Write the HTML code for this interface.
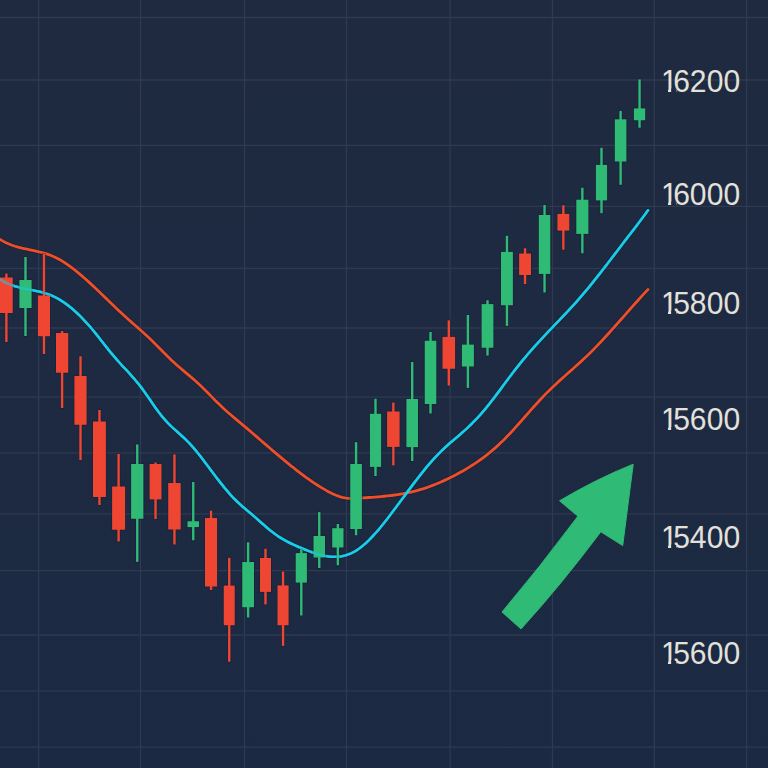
<!DOCTYPE html>
<html><head><meta charset="utf-8"><title>Chart</title>
<style>html,body{margin:0;padding:0;background:#1f2a40;}svg{display:block;}</style>
</head><body>
<svg width="768" height="768" viewBox="0 0 768 768">
<defs><clipPath id="lc0"><rect x="655" y="61.85" width="19.5" height="26.7"/><rect x="668.01" y="88.45" width="3.17" height="6.4"/><rect x="674.5" y="61.85" width="90" height="27.4"/><rect x="676.2" y="89.15" width="90" height="7"/></clipPath><clipPath id="lc1"><rect x="655" y="174.9" width="19.5" height="26.7"/><rect x="668.01" y="201.5" width="3.17" height="6.4"/><rect x="674.5" y="174.9" width="90" height="27.4"/><rect x="676.2" y="202.2" width="90" height="7"/></clipPath><clipPath id="lc2"><rect x="655" y="283.8" width="19.5" height="26.7"/><rect x="668.01" y="310.4" width="3.17" height="6.4"/><rect x="674.5" y="283.8" width="90" height="27.4"/><rect x="676.2" y="311.1" width="90" height="7"/></clipPath><clipPath id="lc3"><rect x="655" y="400.35" width="19.5" height="26.7"/><rect x="668.01" y="426.95" width="3.17" height="6.4"/><rect x="674.5" y="400.35" width="90" height="27.4"/><rect x="676.2" y="427.65" width="90" height="7"/></clipPath><clipPath id="lc4"><rect x="655" y="517.7" width="19.5" height="26.7"/><rect x="668.01" y="544.3" width="3.17" height="6.4"/><rect x="674.5" y="517.7" width="90" height="27.4"/><rect x="676.2" y="545" width="90" height="7"/></clipPath><clipPath id="lc5"><rect x="655" y="633.55" width="19.5" height="26.7"/><rect x="668.01" y="660.15" width="3.17" height="6.4"/><rect x="674.5" y="633.55" width="90" height="27.4"/><rect x="676.2" y="660.85" width="90" height="7"/></clipPath></defs>
<linearGradient id="bg" x1="0" y1="0" x2="0" y2="1"><stop offset="0" stop-color="#1f2a40"/><stop offset="0.5" stop-color="#1d2a41"/><stop offset="1" stop-color="#1b2943"/></linearGradient>
<rect width="768" height="768" fill="url(#bg)"/>
<g stroke="#2f3a50" stroke-width="1.3"><line x1="38.6" y1="0" x2="38.6" y2="768"/><line x1="140.5" y1="0" x2="140.5" y2="768"/><line x1="244.5" y1="0" x2="244.5" y2="768"/><line x1="346.5" y1="0" x2="346.5" y2="768"/><line x1="450.1" y1="0" x2="450.1" y2="768"/><line x1="552.5" y1="0" x2="552.5" y2="768"/><line x1="654.3" y1="0" x2="654.3" y2="768"/><line x1="746.6" y1="0" x2="746.6" y2="768"/><line x1="0" y1="17.5" x2="768" y2="17.5"/><line x1="0" y1="80" x2="768" y2="80"/><line x1="0" y1="145.3" x2="768" y2="145.3"/><line x1="0" y1="206.4" x2="768" y2="206.4"/><line x1="0" y1="268.3" x2="768" y2="268.3"/><line x1="0" y1="328" x2="768" y2="328"/><line x1="0" y1="397.2" x2="768" y2="397.2"/><line x1="0" y1="452.9" x2="768" y2="452.9"/><line x1="0" y1="513.9" x2="768" y2="513.9"/><line x1="0" y1="570.6" x2="768" y2="570.6"/><line x1="0" y1="635" x2="768" y2="635"/><line x1="0" y1="690.9" x2="768" y2="690.9"/><line x1="0" y1="747.2" x2="768" y2="747.2"/></g>
<g fill="none" stroke="#141b2b" stroke-width="4.4" stroke-linecap="round" stroke-linejoin="round" opacity="0.45"><path d="M0,239.33 L3,241.13 L6,242.69 L9,244.05 L12,245.22 L15,246.24 L18,247.12 L21,247.9 L24,248.6 L27,249.24 L30,249.86 L33,250.46 L36,251.09 L39,251.77 L42,252.51 L45,253.36 L48,254.32 L51,255.43 L54,256.72 L57,258.18 L60,259.81 L63,261.61 L66,263.55 L69,265.62 L72,267.83 L75,270.15 L78,272.57 L81,275.09 L84,277.69 L87,280.37 L90,283.11 L93,285.9 L96,288.73 L99,291.59 L102,294.48 L105,297.38 L108,300.29 L111,303.19 L114,306.08 L117,308.94 L120,311.77 L123,314.56 L126,317.3 L129,319.99 L132,322.63 L135,325.26 L138,327.88 L141,330.52 L144,333.2 L147,335.94 L150,338.75 L153,341.66 L156,344.65 L159,347.69 L162,350.75 L165,353.8 L168,356.8 L171,359.72 L174,362.52 L177,365.21 L180,367.79 L183,370.32 L186,372.81 L189,375.32 L192,377.87 L195,380.5 L198,383.24 L201,386.1 L204,389.04 L207,392.05 L210,395.09 L213,398.12 L216,401.14 L219,404.09 L222,406.97 L225,409.74 L228,412.42 L231,415.03 L234,417.59 L237,420.11 L240,422.62 L243,425.13 L246,427.65 L249,430.19 L252,432.75 L255,435.33 L258,437.91 L261,440.5 L264,443.09 L267,445.68 L270,448.26 L273,450.83 L276,453.38 L279,455.92 L282,458.44 L285,460.93 L288,463.39 L291,465.82 L294,468.21 L297,470.56 L300,472.86 L303,475.11 L306,477.31 L309,479.45 L312,481.54 L315,483.55 L318,485.5 L321,487.37 L324,489.17 L327,490.89 L330,492.49 L333,493.96 L336,495.27 L339,496.39 L342,497.29 L345,497.95 L348,498.34 L351,498.51 L354,498.52 L357,498.39 L360,498.19 L363,497.97 L366,497.74 L369,497.52 L372,497.29 L375,497.05 L378,496.81 L381,496.54 L384,496.26 L387,495.95 L390,495.61 L393,495.24 L396,494.83 L399,494.38 L402,493.88 L405,493.34 L408,492.74 L411,492.08 L414,491.36 L417,490.57 L420,489.72 L423,488.8 L426,487.82 L429,486.78 L432,485.67 L435,484.5 L438,483.28 L441,481.99 L444,480.64 L447,479.24 L450,477.79 L453,476.27 L456,474.71 L459,473.09 L462,471.42 L465,469.69 L468,467.89 L471,466.03 L474,464.09 L477,462.08 L480,459.98 L483,457.8 L486,455.52 L489,453.15 L492,450.67 L495,448.08 L498,445.39 L501,442.57 L504,439.63 L507,436.58 L510,433.43 L513,430.19 L516,426.88 L519,423.53 L522,420.13 L525,416.72 L528,413.31 L531,409.9 L534,406.53 L537,403.2 L540,399.93 L543,396.74 L546,393.64 L549,390.65 L552,387.73 L555,384.9 L558,382.12 L561,379.4 L564,376.71 L567,374.04 L570,371.38 L573,368.72 L576,366.05 L579,363.34 L582,360.6 L585,357.8 L588,354.93 L591,351.99 L594,348.97 L597,345.87 L600,342.72 L603,339.51 L606,336.26 L609,332.96 L612,329.62 L615,326.26 L618,322.88 L621,319.49 L624,316.08 L627,312.68 L630,309.29 L633,305.91 L636,302.55 L639,299.22 L642,295.93 L645,292.67 L648,289.47"/><path d="M0,279.4 L3,281.2 L6,282.76 L9,284.11 L12,285.26 L15,286.25 L18,287.11 L21,287.86 L24,288.53 L27,289.14 L30,289.73 L33,290.32 L36,290.93 L39,291.59 L42,292.33 L45,293.18 L48,294.16 L51,295.3 L54,296.63 L57,298.15 L60,299.87 L63,301.78 L66,303.87 L69,306.14 L72,308.58 L75,311.2 L78,313.98 L81,316.93 L84,320.03 L87,323.29 L90,326.7 L93,330.25 L96,333.93 L99,337.7 L102,341.52 L105,345.35 L108,349.14 L111,352.86 L114,356.45 L117,359.9 L120,363.25 L123,366.51 L126,369.74 L129,372.99 L132,376.29 L135,379.72 L138,383.31 L141,387.13 L144,391.21 L147,395.46 L150,399.82 L153,404.18 L156,408.46 L159,412.57 L162,416.42 L165,419.92 L168,423.12 L171,426.09 L174,428.88 L177,431.58 L180,434.26 L183,436.97 L186,439.81 L189,442.82 L192,446.08 L195,449.57 L198,453.23 L201,457.05 L204,460.97 L207,464.95 L210,468.97 L213,472.97 L216,476.94 L219,480.85 L222,484.67 L225,488.37 L228,491.93 L231,495.32 L234,498.52 L237,501.5 L240,504.28 L243,506.92 L246,509.47 L249,511.99 L252,514.52 L255,517.12 L258,519.76 L261,522.42 L264,525.06 L267,527.65 L270,530.16 L273,532.54 L276,534.76 L279,536.81 L282,538.67 L285,540.39 L288,541.98 L291,543.46 L294,544.86 L297,546.19 L300,547.48 L303,548.75 L306,549.98 L309,551.15 L312,552.27 L315,553.29 L318,554.22 L321,555.04 L324,555.72 L327,556.25 L330,556.63 L333,556.82 L336,556.82 L339,556.61 L342,556.18 L345,555.5 L348,554.56 L351,553.35 L354,551.85 L357,550.05 L360,547.95 L363,545.57 L366,542.94 L369,540.07 L372,537 L375,533.73 L378,530.29 L381,526.71 L384,523 L387,519.18 L390,515.28 L393,511.31 L396,507.3 L399,503.27 L402,499.22 L405,495.16 L408,491.12 L411,487.11 L414,483.13 L417,479.21 L420,475.36 L423,471.58 L426,467.9 L429,464.32 L432,460.86 L435,457.54 L438,454.36 L441,451.34 L444,448.48 L447,445.74 L450,443.1 L453,440.51 L456,437.96 L459,435.39 L462,432.79 L465,430.12 L468,427.35 L471,424.46 L474,421.45 L477,418.32 L480,415.06 L483,411.65 L486,408.09 L489,404.39 L492,400.56 L495,396.64 L498,392.65 L501,388.62 L504,384.56 L507,380.51 L510,376.49 L513,372.53 L516,368.65 L519,364.86 L522,361.16 L525,357.55 L528,354.01 L531,350.55 L534,347.16 L537,343.83 L540,340.55 L543,337.32 L546,334.13 L549,330.97 L552,327.82 L555,324.69 L558,321.56 L561,318.41 L564,315.26 L567,312.07 L570,308.85 L573,305.58 L576,302.26 L579,298.88 L582,295.43 L585,291.9 L588,288.3 L591,284.64 L594,280.92 L597,277.16 L600,273.35 L603,269.5 L606,265.62 L609,261.72 L612,257.8 L615,253.86 L618,249.93 L621,245.99 L624,242.07 L627,238.15 L630,234.26 L633,230.36 L636,226.45 L639,222.51 L642,218.52 L645,214.45 L648,210.3"/></g>
<path d="M0,239.33 L3,241.13 L6,242.69 L9,244.05 L12,245.22 L15,246.24 L18,247.12 L21,247.9 L24,248.6 L27,249.24 L30,249.86 L33,250.46 L36,251.09 L39,251.77 L42,252.51 L45,253.36 L48,254.32 L51,255.43 L54,256.72 L57,258.18 L60,259.81 L63,261.61 L66,263.55 L69,265.62 L72,267.83 L75,270.15 L78,272.57 L81,275.09 L84,277.69 L87,280.37 L90,283.11 L93,285.9 L96,288.73 L99,291.59 L102,294.48 L105,297.38 L108,300.29 L111,303.19 L114,306.08 L117,308.94 L120,311.77 L123,314.56 L126,317.3 L129,319.99 L132,322.63 L135,325.26 L138,327.88 L141,330.52 L144,333.2 L147,335.94 L150,338.75 L153,341.66 L156,344.65 L159,347.69 L162,350.75 L165,353.8 L168,356.8 L171,359.72 L174,362.52 L177,365.21 L180,367.79 L183,370.32 L186,372.81 L189,375.32 L192,377.87 L195,380.5 L198,383.24 L201,386.1 L204,389.04 L207,392.05 L210,395.09 L213,398.12 L216,401.14 L219,404.09 L222,406.97 L225,409.74 L228,412.42 L231,415.03 L234,417.59 L237,420.11 L240,422.62 L243,425.13 L246,427.65 L249,430.19 L252,432.75 L255,435.33 L258,437.91 L261,440.5 L264,443.09 L267,445.68 L270,448.26 L273,450.83 L276,453.38 L279,455.92 L282,458.44 L285,460.93 L288,463.39 L291,465.82 L294,468.21 L297,470.56 L300,472.86 L303,475.11 L306,477.31 L309,479.45 L312,481.54 L315,483.55 L318,485.5 L321,487.37 L324,489.17 L327,490.89 L330,492.49 L333,493.96 L336,495.27 L339,496.39 L342,497.29 L345,497.95 L348,498.34 L351,498.51 L354,498.52 L357,498.39 L360,498.19 L363,497.97 L366,497.74 L369,497.52 L372,497.29 L375,497.05 L378,496.81 L381,496.54 L384,496.26 L387,495.95 L390,495.61 L393,495.24 L396,494.83 L399,494.38 L402,493.88 L405,493.34 L408,492.74 L411,492.08 L414,491.36 L417,490.57 L420,489.72 L423,488.8 L426,487.82 L429,486.78 L432,485.67 L435,484.5 L438,483.28 L441,481.99 L444,480.64 L447,479.24 L450,477.79 L453,476.27 L456,474.71 L459,473.09 L462,471.42 L465,469.69 L468,467.89 L471,466.03 L474,464.09 L477,462.08 L480,459.98 L483,457.8 L486,455.52 L489,453.15 L492,450.67 L495,448.08 L498,445.39 L501,442.57 L504,439.63 L507,436.58 L510,433.43 L513,430.19 L516,426.88 L519,423.53 L522,420.13 L525,416.72 L528,413.31 L531,409.9 L534,406.53 L537,403.2 L540,399.93 L543,396.74 L546,393.64 L549,390.65 L552,387.73 L555,384.9 L558,382.12 L561,379.4 L564,376.71 L567,374.04 L570,371.38 L573,368.72 L576,366.05 L579,363.34 L582,360.6 L585,357.8 L588,354.93 L591,351.99 L594,348.97 L597,345.87 L600,342.72 L603,339.51 L606,336.26 L609,332.96 L612,329.62 L615,326.26 L618,322.88 L621,319.49 L624,316.08 L627,312.68 L630,309.29 L633,305.91 L636,302.55 L639,299.22 L642,295.93 L645,292.67 L648,289.47" fill="none" stroke="#ef4e2a" stroke-width="2.8" stroke-linejoin="round" stroke-linecap="round"/>
<path d="M0,279.4 L3,281.2 L6,282.76 L9,284.11 L12,285.26 L15,286.25 L18,287.11 L21,287.86 L24,288.53 L27,289.14 L30,289.73 L33,290.32 L36,290.93 L39,291.59 L42,292.33 L45,293.18 L48,294.16 L51,295.3 L54,296.63 L57,298.15 L60,299.87 L63,301.78 L66,303.87 L69,306.14 L72,308.58 L75,311.2 L78,313.98 L81,316.93 L84,320.03 L87,323.29 L90,326.7 L93,330.25 L96,333.93 L99,337.7 L102,341.52 L105,345.35 L108,349.14 L111,352.86 L114,356.45 L117,359.9 L120,363.25 L123,366.51 L126,369.74 L129,372.99 L132,376.29 L135,379.72 L138,383.31 L141,387.13 L144,391.21 L147,395.46 L150,399.82 L153,404.18 L156,408.46 L159,412.57 L162,416.42 L165,419.92 L168,423.12 L171,426.09 L174,428.88 L177,431.58 L180,434.26 L183,436.97 L186,439.81 L189,442.82 L192,446.08 L195,449.57 L198,453.23 L201,457.05 L204,460.97 L207,464.95 L210,468.97 L213,472.97 L216,476.94 L219,480.85 L222,484.67 L225,488.37 L228,491.93 L231,495.32 L234,498.52 L237,501.5 L240,504.28 L243,506.92 L246,509.47 L249,511.99 L252,514.52 L255,517.12 L258,519.76 L261,522.42 L264,525.06 L267,527.65 L270,530.16 L273,532.54 L276,534.76 L279,536.81 L282,538.67 L285,540.39 L288,541.98 L291,543.46 L294,544.86 L297,546.19 L300,547.48 L303,548.75 L306,549.98 L309,551.15 L312,552.27 L315,553.29 L318,554.22 L321,555.04 L324,555.72 L327,556.25 L330,556.63 L333,556.82 L336,556.82 L339,556.61 L342,556.18 L345,555.5 L348,554.56 L351,553.35 L354,551.85 L357,550.05 L360,547.95 L363,545.57 L366,542.94 L369,540.07 L372,537 L375,533.73 L378,530.29 L381,526.71 L384,523 L387,519.18 L390,515.28 L393,511.31 L396,507.3 L399,503.27 L402,499.22 L405,495.16 L408,491.12 L411,487.11 L414,483.13 L417,479.21 L420,475.36 L423,471.58 L426,467.9 L429,464.32 L432,460.86 L435,457.54 L438,454.36 L441,451.34 L444,448.48 L447,445.74 L450,443.1 L453,440.51 L456,437.96 L459,435.39 L462,432.79 L465,430.12 L468,427.35 L471,424.46 L474,421.45 L477,418.32 L480,415.06 L483,411.65 L486,408.09 L489,404.39 L492,400.56 L495,396.64 L498,392.65 L501,388.62 L504,384.56 L507,380.51 L510,376.49 L513,372.53 L516,368.65 L519,364.86 L522,361.16 L525,357.55 L528,354.01 L531,350.55 L534,347.16 L537,343.83 L540,340.55 L543,337.32 L546,334.13 L549,330.97 L552,327.82 L555,324.69 L558,321.56 L561,318.41 L564,315.26 L567,312.07 L570,308.85 L573,305.58 L576,302.26 L579,298.88 L582,295.43 L585,291.9 L588,288.3 L591,284.64 L594,280.92 L597,277.16 L600,273.35 L603,269.5 L606,265.62 L609,261.72 L612,257.8 L615,253.86 L618,249.93 L621,245.99 L624,242.07 L627,238.15 L630,234.26 L633,230.36 L636,226.45 L639,222.51 L642,218.52 L645,214.45 L648,210.3" fill="none" stroke="#17cdea" stroke-width="2.6" stroke-linejoin="round" stroke-linecap="round"/>
<g fill="#161e30" stroke="#161e30" stroke-width="3.8" opacity="0.5"><rect x="-0.8" y="276.7" width="14.35" height="37.1" stroke="none"/><line x1="6.38" y1="272.7" x2="6.38" y2="342.8"/><rect x="18.6" y="279.2" width="13.8" height="29.6" stroke="none"/><line x1="25.5" y1="256.2" x2="25.5" y2="336.8"/><rect x="37.1" y="294.7" width="13.7" height="42.35" stroke="none"/><line x1="43.95" y1="253.2" x2="43.95" y2="354.8"/><rect x="55.2" y="332.2" width="13.85" height="41.35" stroke="none"/><line x1="62.12" y1="330.2" x2="62.12" y2="408.8"/><rect x="73.6" y="375.2" width="13.8" height="50.35" stroke="none"/><line x1="80.5" y1="355.45" x2="80.5" y2="460.8"/><rect x="92.2" y="420.7" width="14.5" height="77.1" stroke="none"/><line x1="99.45" y1="409.2" x2="99.45" y2="505.8"/><rect x="111.3" y="485.7" width="14.6" height="44.85" stroke="none"/><line x1="118.6" y1="453.2" x2="118.6" y2="542.3"/><rect x="130.3" y="463.2" width="13.9" height="56.35" stroke="none"/><line x1="137.25" y1="443.6" x2="137.25" y2="562.7"/><rect x="148.8" y="463.2" width="13.5" height="37" stroke="none"/><line x1="155.55" y1="461.7" x2="155.55" y2="519.8"/><rect x="167.4" y="482.2" width="14.1" height="48.1" stroke="none"/><line x1="174.45" y1="453.6" x2="174.45" y2="545.3"/><rect x="186.7" y="520.45" width="13.1" height="7.45" stroke="none"/><line x1="193.25" y1="481.2" x2="193.25" y2="541.05"/><rect x="204.2" y="517.2" width="13.7" height="70.1" stroke="none"/><line x1="211.05" y1="509.8" x2="211.05" y2="590.8"/><rect x="222.95" y="584.8" width="12.6" height="41.25" stroke="none"/><line x1="229.25" y1="557" x2="229.25" y2="662.55"/><rect x="241.45" y="561.2" width="13.35" height="46.85" stroke="none"/><line x1="248.12" y1="541.5" x2="248.12" y2="618.3"/><rect x="259.2" y="557.2" width="12.6" height="35.5" stroke="none"/><line x1="265.5" y1="547.95" x2="265.5" y2="605.3"/><rect x="276.7" y="584.6" width="12.7" height="41.45" stroke="none"/><line x1="283.05" y1="570.7" x2="283.05" y2="646.7"/><rect x="294.9" y="552.3" width="12.8" height="31.1" stroke="none"/><line x1="301.3" y1="548.6" x2="301.3" y2="616.3"/><rect x="312.7" y="535.2" width="13.1" height="23.1" stroke="none"/><line x1="319.25" y1="511.3" x2="319.25" y2="568.8"/><rect x="331.4" y="527.4" width="12.9" height="20.9" stroke="none"/><line x1="337.85" y1="523.2" x2="337.85" y2="566.05"/><rect x="349.45" y="463.2" width="13.25" height="66.6" stroke="none"/><line x1="356.07" y1="441.4" x2="356.07" y2="536.05"/><rect x="369.1" y="413" width="12.8" height="54.7" stroke="none"/><line x1="375.5" y1="397.95" x2="375.5" y2="476.8"/><rect x="386.3" y="410.7" width="14.1" height="37" stroke="none"/><line x1="393.35" y1="401.7" x2="393.35" y2="466.2"/><rect x="405.6" y="398.2" width="13.2" height="49.7" stroke="none"/><line x1="412.2" y1="361.2" x2="412.2" y2="461.8"/><rect x="423.95" y="339.95" width="13.15" height="64.85" stroke="none"/><line x1="430.52" y1="331.2" x2="430.52" y2="414.3"/><rect x="441.7" y="336.1" width="14.2" height="33.45" stroke="none"/><line x1="448.8" y1="319.6" x2="448.8" y2="386.4"/><rect x="461.1" y="343.8" width="13.6" height="23.5" stroke="none"/><line x1="467.9" y1="314.2" x2="467.9" y2="388.7"/><rect x="480.8" y="303.3" width="13.4" height="45.25" stroke="none"/><line x1="487.5" y1="299.45" x2="487.5" y2="356.4"/><rect x="500.2" y="251.1" width="13.5" height="54.95" stroke="none"/><line x1="506.95" y1="234.95" x2="506.95" y2="326.7"/><rect x="518.3" y="252.7" width="13.5" height="23.1" stroke="none"/><line x1="525.05" y1="247.45" x2="525.05" y2="284.9"/><rect x="538" y="214.2" width="13.1" height="60.5" stroke="none"/><line x1="544.55" y1="204.2" x2="544.55" y2="293.3"/><rect x="556.6" y="213.1" width="13.5" height="18.3" stroke="none"/><line x1="563.35" y1="204.5" x2="563.35" y2="250.55"/><rect x="575.5" y="198.9" width="13.7" height="35.8" stroke="none"/><line x1="582.35" y1="186.95" x2="582.35" y2="254.1"/><rect x="595.1" y="164.1" width="12.8" height="37.1" stroke="none"/><line x1="601.5" y1="147" x2="601.5" y2="214"/><rect x="614" y="118.5" width="13.2" height="43.8" stroke="none"/><line x1="620.6" y1="110.1" x2="620.6" y2="185.6"/><rect x="633.1" y="107.6" width="12.9" height="13.45" stroke="none"/><line x1="639.55" y1="78.6" x2="639.55" y2="128.55"/></g>
<g stroke-width="2.4"><line x1="6.38" y1="273.5" x2="6.38" y2="342" stroke="#ee4633"/><rect x="0" y="277.5" width="12.75" height="35.5" fill="#ee4633"/><line x1="25.5" y1="257" x2="25.5" y2="336" stroke="#2fba76"/><rect x="19.4" y="280" width="12.2" height="28" fill="#2fba76"/><line x1="43.95" y1="254" x2="43.95" y2="354" stroke="#ee4633"/><rect x="37.9" y="295.5" width="12.1" height="40.75" fill="#ee4633"/><line x1="62.12" y1="331" x2="62.12" y2="408" stroke="#ee4633"/><rect x="56" y="333" width="12.25" height="39.75" fill="#ee4633"/><line x1="80.5" y1="356.25" x2="80.5" y2="460" stroke="#ee4633"/><rect x="74.4" y="376" width="12.2" height="48.75" fill="#ee4633"/><line x1="99.45" y1="410" x2="99.45" y2="505" stroke="#ee4633"/><rect x="93" y="421.5" width="12.9" height="75.5" fill="#ee4633"/><line x1="118.6" y1="454" x2="118.6" y2="541.5" stroke="#ee4633"/><rect x="112.1" y="486.5" width="13" height="43.25" fill="#ee4633"/><line x1="137.25" y1="444.4" x2="137.25" y2="561.9" stroke="#2fba76"/><rect x="131.1" y="464" width="12.3" height="54.75" fill="#2fba76"/><line x1="155.55" y1="462.5" x2="155.55" y2="519" stroke="#ee4633"/><rect x="149.6" y="464" width="11.9" height="35.4" fill="#ee4633"/><line x1="174.45" y1="454.4" x2="174.45" y2="544.5" stroke="#ee4633"/><rect x="168.2" y="483" width="12.5" height="46.5" fill="#ee4633"/><line x1="193.25" y1="482" x2="193.25" y2="540.25" stroke="#2fba76"/><rect x="187.5" y="521.25" width="11.5" height="5.85" fill="#2fba76"/><line x1="211.05" y1="510.6" x2="211.05" y2="590" stroke="#ee4633"/><rect x="205" y="518" width="12.1" height="68.5" fill="#ee4633"/><line x1="229.25" y1="557.8" x2="229.25" y2="661.75" stroke="#ee4633"/><rect x="223.75" y="585.6" width="11" height="39.65" fill="#ee4633"/><line x1="248.12" y1="542.3" x2="248.12" y2="617.5" stroke="#2fba76"/><rect x="242.25" y="562" width="11.75" height="45.25" fill="#2fba76"/><line x1="265.5" y1="548.75" x2="265.5" y2="604.5" stroke="#ee4633"/><rect x="260" y="558" width="11" height="33.9" fill="#ee4633"/><line x1="283.05" y1="571.5" x2="283.05" y2="645.9" stroke="#ee4633"/><rect x="277.5" y="585.4" width="11.1" height="39.85" fill="#ee4633"/><line x1="301.3" y1="549.4" x2="301.3" y2="615.5" stroke="#2fba76"/><rect x="295.7" y="553.1" width="11.2" height="29.5" fill="#2fba76"/><line x1="319.25" y1="512.1" x2="319.25" y2="568" stroke="#2fba76"/><rect x="313.5" y="536" width="11.5" height="21.5" fill="#2fba76"/><line x1="337.85" y1="524" x2="337.85" y2="565.25" stroke="#2fba76"/><rect x="332.2" y="528.2" width="11.3" height="19.3" fill="#2fba76"/><line x1="356.07" y1="442.2" x2="356.07" y2="535.25" stroke="#2fba76"/><rect x="350.25" y="464" width="11.65" height="65" fill="#2fba76"/><line x1="375.5" y1="398.75" x2="375.5" y2="476" stroke="#2fba76"/><rect x="369.9" y="413.8" width="11.2" height="53.1" fill="#2fba76"/><line x1="393.35" y1="402.5" x2="393.35" y2="465.4" stroke="#ee4633"/><rect x="387.1" y="411.5" width="12.5" height="35.4" fill="#ee4633"/><line x1="412.2" y1="362" x2="412.2" y2="461" stroke="#2fba76"/><rect x="406.4" y="399" width="11.6" height="48.1" fill="#2fba76"/><line x1="430.52" y1="332" x2="430.52" y2="413.5" stroke="#2fba76"/><rect x="424.75" y="340.75" width="11.55" height="63.25" fill="#2fba76"/><line x1="448.8" y1="320.4" x2="448.8" y2="385.6" stroke="#ee4633"/><rect x="442.5" y="336.9" width="12.6" height="31.85" fill="#ee4633"/><line x1="467.9" y1="315" x2="467.9" y2="387.9" stroke="#2fba76"/><rect x="461.9" y="344.6" width="12" height="21.9" fill="#2fba76"/><line x1="487.5" y1="300.25" x2="487.5" y2="355.6" stroke="#2fba76"/><rect x="481.6" y="304.1" width="11.8" height="43.65" fill="#2fba76"/><line x1="506.95" y1="235.75" x2="506.95" y2="325.9" stroke="#2fba76"/><rect x="501" y="251.9" width="11.9" height="53.35" fill="#2fba76"/><line x1="525.05" y1="248.25" x2="525.05" y2="284.1" stroke="#ee4633"/><rect x="519.1" y="253.5" width="11.9" height="21.5" fill="#ee4633"/><line x1="544.55" y1="205" x2="544.55" y2="292.5" stroke="#2fba76"/><rect x="538.8" y="215" width="11.5" height="58.9" fill="#2fba76"/><line x1="563.35" y1="205.3" x2="563.35" y2="249.75" stroke="#ee4633"/><rect x="557.4" y="213.9" width="11.9" height="16.7" fill="#ee4633"/><line x1="582.35" y1="187.75" x2="582.35" y2="253.3" stroke="#2fba76"/><rect x="576.3" y="199.7" width="12.1" height="34.2" fill="#2fba76"/><line x1="601.5" y1="147.8" x2="601.5" y2="213.2" stroke="#2fba76"/><rect x="595.9" y="164.9" width="11.2" height="35.5" fill="#2fba76"/><line x1="620.6" y1="110.9" x2="620.6" y2="184.8" stroke="#2fba76"/><rect x="614.8" y="119.3" width="11.6" height="42.2" fill="#2fba76"/><line x1="639.55" y1="79.4" x2="639.55" y2="127.75" stroke="#2fba76"/><rect x="633.9" y="108.4" width="11.3" height="11.85" fill="#2fba76"/></g>
<path d="M0,279.4 L3,281.2 L6,282.76 L9,284.11 L12,285.26 L15,286.25 L18,287.11 L21,287.86 L24,288.53 L27,289.14 L30,289.73 L33,290.32 L36,290.93 L39,291.59 L42,292.33 L45,293.18 L48,294.16 L51,295.3 L54,296.63 L57,298.15 L60,299.87 L63,301.78 L66,303.87 L69,306.14 L72,308.58 L75,311.2 L78,313.98 L81,316.93 L84,320.03 L87,323.29 L90,326.7 L93,330.25 L96,333.93 L99,337.7 L102,341.52 L105,345.35 L108,349.14 L111,352.86 L114,356.45 L117,359.9 L120,363.25 L123,366.51 L126,369.74 L129,372.99 L132,376.29 L135,379.72 L138,383.31 L141,387.13 L144,391.21 L147,395.46 L150,399.82 L153,404.18 L156,408.46 L159,412.57 L162,416.42 L165,419.92 L168,423.12 L171,426.09 L174,428.88 L177,431.58 L180,434.26 L183,436.97 L186,439.81 L189,442.82 L192,446.08 L195,449.57 L198,453.23 L201,457.05 L204,460.97 L207,464.95 L210,468.97 L213,472.97 L216,476.94 L219,480.85 L222,484.67 L225,488.37 L228,491.93 L231,495.32 L234,498.52 L237,501.5 L240,504.28 L243,506.92 L246,509.47 L249,511.99 L252,514.52 L255,517.12 L258,519.76 L261,522.42 L264,525.06 L267,527.65 L270,530.16 L273,532.54 L276,534.76 L279,536.81 L282,538.67 L285,540.39 L288,541.98 L291,543.46 L294,544.86 L297,546.19 L300,547.48 L303,548.75 L306,549.98 L309,551.15 L312,552.27 L315,553.29 L318,554.22 L321,555.04 L324,555.72 L327,556.25 L330,556.63 L333,556.82 L336,556.82 L339,556.61 L342,556.18 L345,555.5 L348,554.56 L351,553.35 L354,551.85 L357,550.05 L360,547.95 L363,545.57 L366,542.94 L369,540.07 L372,537 L375,533.73 L378,530.29 L381,526.71 L384,523 L387,519.18 L390,515.28 L393,511.31 L396,507.3 L399,503.27 L402,499.22 L405,495.16 L408,491.12 L411,487.11 L414,483.13 L417,479.21 L420,475.36 L423,471.58 L426,467.9 L429,464.32 L432,460.86 L435,457.54 L438,454.36 L441,451.34 L444,448.48 L447,445.74 L450,443.1 L453,440.51 L456,437.96 L459,435.39 L462,432.79 L465,430.12 L468,427.35 L471,424.46 L474,421.45 L477,418.32 L480,415.06 L483,411.65 L486,408.09 L489,404.39 L492,400.56 L495,396.64 L498,392.65 L501,388.62 L504,384.56 L507,380.51 L510,376.49 L513,372.53 L516,368.65 L519,364.86 L522,361.16 L525,357.55 L528,354.01 L531,350.55 L534,347.16 L537,343.83 L540,340.55 L543,337.32 L546,334.13 L549,330.97 L552,327.82 L555,324.69 L558,321.56 L561,318.41 L564,315.26 L567,312.07 L570,308.85 L573,305.58 L576,302.26 L579,298.88 L582,295.43 L585,291.9 L588,288.3 L591,284.64 L594,280.92 L597,277.16 L600,273.35 L603,269.5 L606,265.62 L609,261.72 L612,257.8 L615,253.86 L618,249.93 L621,245.99 L624,242.07 L627,238.15 L630,234.26 L633,230.36 L636,226.45 L639,222.51 L642,218.52 L645,214.45 L648,210.3" fill="none" stroke="#17cdea" stroke-width="2.6" stroke-linecap="round" opacity="0.55"/>
<path d="M633.2,464.2 L622.7,545.6 L600.8,531.8 Q560.9,585.2 521,629 L502,612 Q540,567 577.9,516.2 L559.5,500.8 Q596.4,478.9 633.2,464.2 Z" fill="#2fba76" stroke="#2fba76" stroke-width="1" stroke-linejoin="round"/>
<g font-family="Liberation Sans, sans-serif" font-size="31.3" fill="#e3e1dc"><g clip-path="url(#lc0)"><text transform="scale(0.96,1)" x="688.54 701.25 718.44 736.25 753.54" y="91.85">16200</text></g><g clip-path="url(#lc1)"><text transform="scale(0.96,1)" x="688.54 701.25 718.44 736.25 753.54" y="204.9">16000</text></g><g clip-path="url(#lc2)"><text transform="scale(0.96,1)" x="688.54 701.25 718.44 736.25 753.54" y="313.8">15800</text></g><g clip-path="url(#lc3)"><text transform="scale(0.96,1)" x="688.54 701.25 718.44 736.25 753.54" y="430.35">15600</text></g><g clip-path="url(#lc4)"><text transform="scale(0.96,1)" x="688.54 701.25 718.44 736.25 753.54" y="547.7">15400</text></g><g clip-path="url(#lc5)"><text transform="scale(0.96,1)" x="688.54 701.25 718.44 736.25 753.54" y="663.55">15600</text></g></g>
</svg>
</body></html>
